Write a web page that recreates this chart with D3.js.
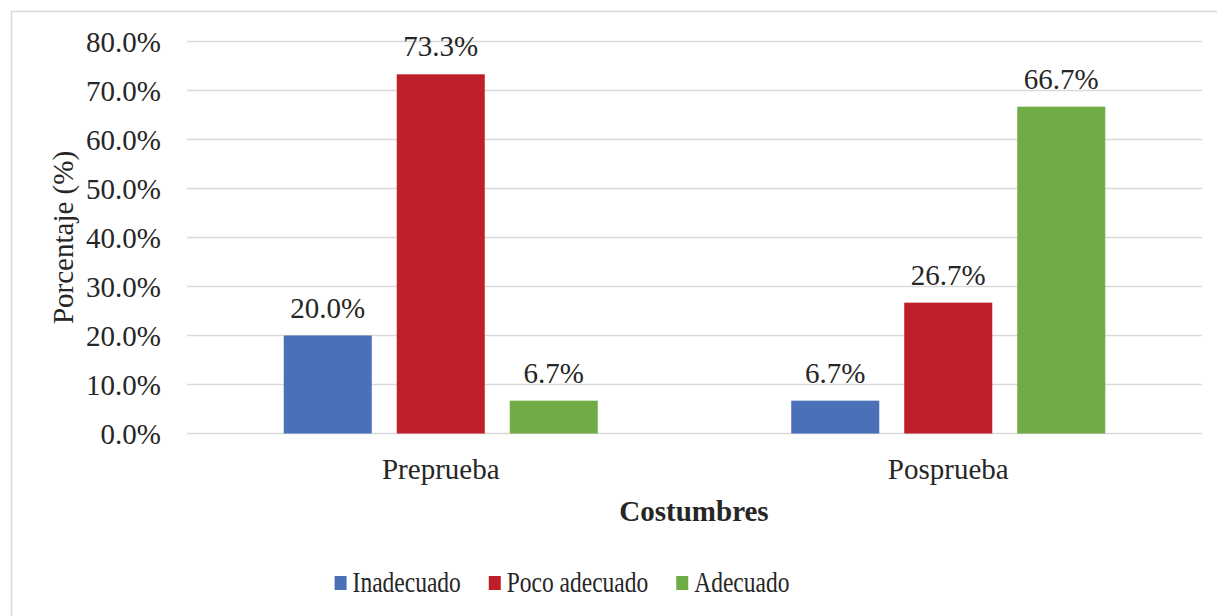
<!DOCTYPE html>
<html>
<head>
<meta charset="utf-8">
<script src="https://cdn.jsdelivr.net/npm/d3@7"></script>
<style>
  html, body { margin: 0; padding: 0; background: #ffffff; }
  svg { display: block; }
  text { font-family: "Liberation Serif", "Times New Roman", serif; fill: #262626; }
</style>
</head>
<body>
<svg id="chart" width="1217" height="616"></svg>
<script>
const categories = ["Preprueba", "Posprueba"];
const seriesNames = ["Inadecuado", "Poco adecuado", "Adecuado"];
const inadecuado = [20.0, 6.7];
const pocoAdecuado = [73.3, 26.7];
const adecuado = [6.7, 66.7];
const yTicks = [0, 10, 20, 30, 40, 50, 60, 70, 80];
const colors = ["#4a71b8", "#be1f28", "#70ac46"];
const xTitle = "Costumbres";
const yTitle = "Porcentaje (%)";

const seriesValues = [inadecuado, pocoAdecuado, adecuado];

const svg = d3.select("#chart");
const W = 1217, H = 616;
const plot = { left: 187, right: 1202, top: 41.5, bottom: 433.5 };

// Chart frame
svg.append("rect")
  .attr("x", 11.5).attr("y", 11.5)
  .attr("width", W + 20).attr("height", H + 20)
  .attr("fill", "#fff").attr("stroke", "#d9d9d9").attr("stroke-width", 1.5);

const y = d3.scaleLinear().domain([0, 80]).range([plot.bottom, plot.top]);
const x0 = d3.scaleBand().domain(categories).range([plot.left, plot.right]).paddingInner(0).paddingOuter(0);
const x1 = d3.scaleBand().domain(seriesNames).range([0, x0.bandwidth()]).paddingInner(0.221).paddingOuter(0.856);

// Gridlines
svg.append("g").selectAll("line").data(yTicks).join("line")
  .attr("x1", plot.left).attr("x2", plot.right)
  .attr("y1", d => y(d)).attr("y2", d => y(d))
  .attr("stroke", "#d9d9d9").attr("stroke-width", 1.5);

// Y axis labels
const yAxis = d3.axisLeft(y).tickValues(yTicks).tickSize(0).tickPadding(26)
  .tickFormat(d => d.toFixed(1) + "%");
const gy = svg.append("g").attr("transform", `translate(${plot.left},0)`).call(yAxis);
gy.select(".domain").remove();
gy.selectAll("text")
  .style("font-family", '"Liberation Serif", "Times New Roman", serif')
  .style("font-size", "29px").attr("fill", "#262626").attr("dy", "0.34em");

// X axis labels
const xAxis = d3.axisBottom(x0).tickSize(0).tickPadding(0);
const gx = svg.append("g").attr("transform", `translate(0,${plot.bottom})`).call(xAxis);
gx.select(".domain").remove();
gx.selectAll("text")
  .style("font-family", '"Liberation Serif", "Times New Roman", serif')
  .style("font-size", "29px").attr("fill", "#262626")
  .attr("y", 45.5).attr("dy", 0);

// Bars
const groups = svg.append("g").selectAll("g").data(categories).join("g")
  .attr("transform", c => `translate(${x0(c)},0)`);

groups.each(function(c, ci) {
  const g = d3.select(this);
  const data = seriesNames.map((s, si) => ({ s, si, v: seriesValues[si][ci] }));
  g.selectAll("rect").data(data).join("rect")
    .attr("x", d => x1(d.s))
    .attr("y", d => y(d.v))
    .attr("width", x1.bandwidth())
    .attr("height", d => y(0) - y(d.v))
    .attr("fill", d => colors[d.si]);
  g.selectAll("text.lbl").data(data).join("text")
    .attr("class", "lbl")
    .attr("x", d => x1(d.s) + x1.bandwidth() / 2)
    .attr("y", d => y(d.v) - 18)
    .attr("text-anchor", "middle")
    .style("font-size", "29px")
    .text(d => d.v.toFixed(1) + "%");
});

// Axis titles
svg.append("text")
  .attr("x", (plot.left + plot.right) / 2 - 0.5)
  .attr("y", 521)
  .attr("text-anchor", "middle")
  .style("font-size", "29px").style("font-weight", "bold")
  .text(xTitle);

svg.append("text")
  .attr("transform", `translate(72.5,${(plot.top + plot.bottom) / 2}) rotate(-90)`)
  .attr("text-anchor", "middle")
  .style("font-size", "29px")
  .text(yTitle);

// Legend
const legend = svg.append("g");
const sx = 0.81;
let cursor = 0;
const items = [];
seriesNames.forEach((name, i) => {
  const it = legend.append("g");
  it.append("rect").attr("x", 0).attr("y", 576).attr("width", 12).attr("height", 14).attr("fill", colors[i]);
  const t = it.append("text").attr("transform", `translate(18,592) scale(${sx},1)`)
    .style("font-size", "29px").text(name);
  const tw = t.node().getComputedTextLength() * sx;
  it.attr("transform", `translate(${cursor},0)`);
  cursor += 18 + tw + 28;
});
const legendWidth = cursor - 28;
legend.attr("transform", `translate(${562 - legendWidth / 2},0)`);
</script>
</body>
</html>
